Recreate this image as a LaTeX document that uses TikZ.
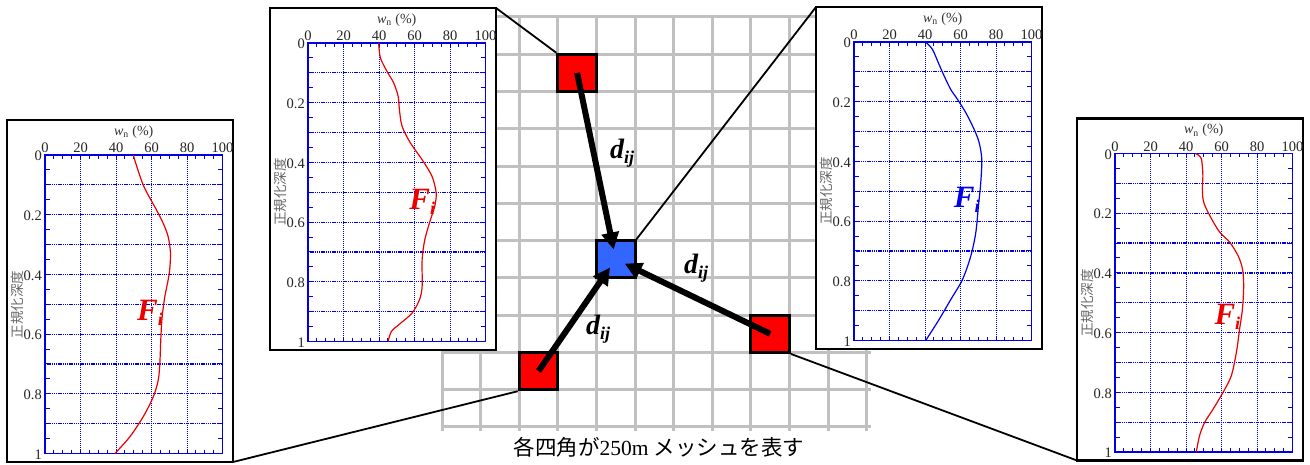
\documentclass[tikz,border=0pt]{standalone}
\usepackage{fontspec}
\setmainfont{Liberation Serif}
\newfontfamily\jpfont{Noto Sans CJK JP}
\usetikzlibrary{arrows.meta}
\definecolor{gridgray}{RGB}{192,192,192}
\definecolor{sqred}{RGB}{255,0,0}
\definecolor{sqblue}{RGB}{51,102,255}
\definecolor{plotblue}{RGB}{0,0,230}
\definecolor{curvered}{RGB}{235,0,0}
\definecolor{curveblue}{RGB}{0,0,235}

\tikzset{
  meshline/.style={draw=gridgray, line width=3pt},
  chartbox/.style={draw=black, fill=white, line width=2.6pt, minimum width=226pt, minimum height=342pt, inner sep=0pt, outer sep=0pt},
  vgrid/.style={draw=plotblue, line width=0.7pt, dash pattern=on 1pt off 1pt},
  hgrid/.style={draw=plotblue, line width=1.2pt, dash pattern=on 1.3pt off 0.9pt},
  tickmark/.style={draw=plotblue, line width=1pt},
  plotframe/.style={draw=plotblue, line width=1.5pt},
  axlab/.style={font=\rmfamily\fontsize{14.5}{15}\selectfont, text=black!85, inner sep=1pt},
  xtitle/.style={font=\rmfamily\fontsize{14}{15}\selectfont, text=black!80, inner sep=1pt},
  ytitle/.style={font=\jpfont\fontsize{13.5}{13.5}\selectfont, text=black!60, inner sep=0pt, rotate=90},
  curveline/.style={line width=1.2pt},
  flab/.style={font=\rmfamily\fontsize{31}{31}\selectfont\bfseries\itshape, inner sep=0pt},
  dlab/.style={font=\rmfamily\fontsize{28}{28}\selectfont\bfseries\itshape, inner sep=0pt},
  sqbox/.style={draw=black, line width=3pt, minimum width=38.6pt, minimum height=37.27pt, inner sep=0pt},
  bigarrow/.style={line width=6pt, -{Triangle[length=17pt,width=17pt]}, shorten >=10pt},
  conn/.style={draw=black, line width=1.8pt},
}

\newcommand\wnchart[6]{%
\begin{scope}[shift={(#2,#3)}]
  \node[chartbox, anchor=north west] (#1) at (0,0) {};
  \begin{scope}[shift={(38,35)}, x=1.775pt, y=-298.5pt]
    \foreach \ww in {20,40,60,80} \draw[vgrid] (\ww,0) -- (\ww,1);
    \foreach \kk in {1,...,9} \draw[hgrid] (0,{\kk*0.1}) -- (100,{\kk*0.1});
    \foreach \kk in {1,...,19} {
      \draw[tickmark] (0,{\kk*0.05}) -- ++(5pt,0);
      \draw[tickmark] (100,{\kk*0.05}) -- ++(-5pt,0);
    }
    \foreach \kk in {1,...,19} {
      \draw[tickmark] ({\kk*5},0) -- ++(0,-4pt);
      \draw[tickmark] ({\kk*5},1) -- ++(0,4pt);
    }
    \draw[plotframe] (0,0) rectangle (100,1);
    \foreach \ww in {0,20,40,60,80,100}
      \node[axlab, anchor=south, yshift=1pt] (#1-x\ww) at (\ww,0) {\ww};
    \foreach \yy/\lab in {0/0,0.2/0.2,0.4/0.4,0.6/0.6,0.8/0.8,1/1}
      \node[axlab, anchor=east, xshift=-2pt, yshift=-1pt] (#1-y\lab) at (0,\yy) {\lab};
    \node[xtitle, yshift=23pt] (#1-xt) at (50,0) {\textit{w}\textsubscript{n} (\%)};
    \node[xshift=-28pt, ytitle] (#1-yt) at (0,0.5) {正規化深度};
    \draw[curveline, #4] plot[smooth] coordinates {#5};
    \node[flab, text=#4] (#1-F) at #6 {F\raisebox{-5pt}{\fontsize{18}{18}\selectfont i}};
  \end{scope}
\end{scope}}

\begin{document}
\begin{tikzpicture}[x=1pt, y=-1pt]
\useasboundingbox (0,0) rectangle (1310,465);
\fill[white] (0,0) rectangle (1310,465);

% mesh grid
\foreach \ii in {0,...,11}
  \draw[meshline] ({442+\ii*38.6},15.5) -- ({442+\ii*38.6},431);
\foreach \jj in {0,...,11}
  \draw[meshline] (440.5,{17+\jj*37.27}) -- (871,{17+\jj*37.27});

% charts
\wnchart{cA}{7}{120}{curvered}{(49.7,0) (55.3,0.1) (62.8,0.184) (66.6,0.229) (69.4,0.274) (70.7,0.33) (70,0.397) (67.5,0.475) (66,0.542) (65.3,0.609) (64.7,0.698) (63.8,0.754) (61,0.81) (55.3,0.877) (47.8,0.944) (39.4,1)}{(59.2,0.529)}
\wnchart{cB}{270}{8}{curvered}{(39.8,0) (40.8,0.05) (44.5,0.095) (48.3,0.134) (50.8,0.179) (51.5,0.223) (53,0.279) (57.7,0.335) (64.3,0.391) (69.9,0.447) (72.2,0.503) (71.4,0.547) (69,0.592) (65.8,0.659) (64.3,0.726) (64.3,0.816) (62.8,0.86) (58.6,0.905) (51.1,0.944) (47,0.966) (45.1,1)}{(64.4,0.532)}
\wnchart{cC}{816}{7}{curveblue}{(40.4,0) (44.2,0.025) (47.9,0.075) (50.8,0.114) (54.5,0.159) (58.3,0.192) (63,0.237) (67.7,0.293) (70.5,0.337) (72,0.393) (71.4,0.472) (70.1,0.55) (68.6,0.639) (65.8,0.717) (61.1,0.796) (54.5,0.863) (47.9,0.93) (43.2,0.974) (40.4,1)}{(63.5,0.53)}
\wnchart{cD}{1077}{118.5}{curvered}{(45.4,0) (48.6,0.017) (49.5,0.073) (49.2,0.118) (49.9,0.162) (53.3,0.207) (58.9,0.263) (64.6,0.297) (69.3,0.342) (71.8,0.386) (72.5,0.442) (71.8,0.521) (70.2,0.588) (68.4,0.666) (65.5,0.745) (60.8,0.801) (55.2,0.857) (50.5,0.901) (47.6,0.946) (45.8,1)}{(63.3,0.548)}

% squares
\node[sqbox, fill=sqred] (sqA) at (577.1,72.9) {};
\node[sqbox, fill=sqblue] (sqC) at (615.7,259.3) {};
\node[sqbox, fill=sqred] (sqB) at (538.5,371.1) {};
\node[sqbox, fill=sqred] (sqD) at (770.1,333.8) {};

% connectors from charts to squares
\draw[conn] (cB.north east) -- (sqA.north west);
\draw[conn] (cC.north west) -- (sqC.north east);
\draw[conn] (cA.south east) -- (sqB.south west);
\draw[conn] (cD.south west) -- (sqD.south east);

% arrows
\draw[bigarrow] (sqA.center) -- (sqC.center);
\draw[bigarrow] (sqB.center) -- (sqC.center);
\draw[bigarrow] (sqD.center) -- (sqC.center);

% distance labels
\node[dlab] (dA) at (622,153) {d\raisebox{-5pt}{\fontsize{18}{18}\selectfont ij}};
\node[dlab] (dD) at (696,268) {d\raisebox{-5pt}{\fontsize{18}{18}\selectfont ij}};
\node[dlab] (dB) at (598,329) {d\raisebox{-5pt}{\fontsize{18}{18}\selectfont ij}};

% caption
\node[font=\fontsize{21.5}{21.5}\selectfont, inner sep=0pt] (cap) at (659,447) {{\jpfont 各四角が}250m {\jpfont メッシュを表す}};
\end{tikzpicture}
\end{document}
